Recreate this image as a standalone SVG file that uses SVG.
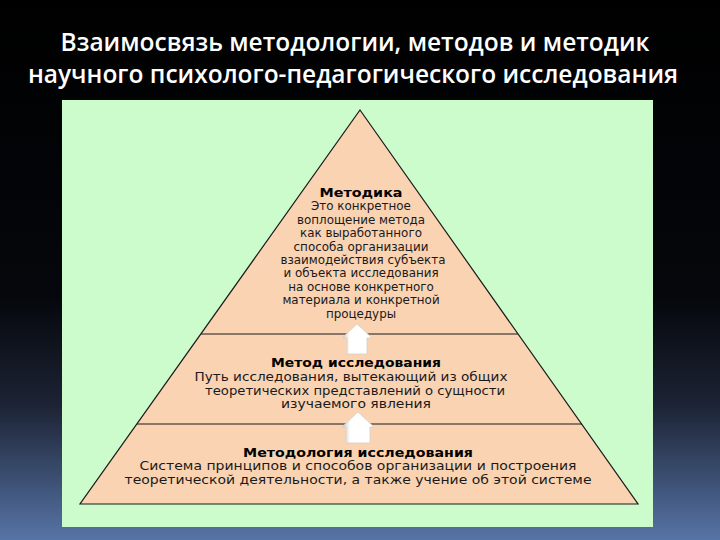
<svg xmlns="http://www.w3.org/2000/svg" width="720" height="540" viewBox="0 0 720 540">
<defs>
<linearGradient id="bg" x1="0" y1="0" x2="0" y2="1">
<stop offset="0" stop-color="#000000"/>
<stop offset="0.55" stop-color="#05070c"/>
<stop offset="0.75" stop-color="#1c2334"/>
<stop offset="1" stop-color="#5774a6"/>
</linearGradient>
<linearGradient id="arr" x1="0" y1="0" x2="1" y2="0">
<stop offset="0" stop-color="#c8c0b8"/>
<stop offset="0.25" stop-color="#ffffff"/>
<stop offset="1" stop-color="#ffffff"/>
</linearGradient>
<style>
.t{font-family:"DejaVu Sans",Verdana,sans-serif;font-size:12px;fill:#1a1a1a;text-anchor:middle}
.s{font-size:11.9px}
.b{font-weight:bold;fill:#000;font-size:12.5px}
.h{font-family:"Open Sans","DejaVu Sans",sans-serif;font-size:24.5px;font-weight:600;fill:#ffffff;text-anchor:middle}
.ln{stroke:#1a1a1a;stroke-width:1.2;fill:none}
.ar{fill:url(#arr);stroke:#d8d0c8;stroke-width:0.8}
</style>
</defs>
<rect x="0" y="0" width="720" height="540" fill="url(#bg)"/>
<g id="title">
<text class="h" x="355" y="51">Взаимосвязь методологии, методов и методик</text>
<text class="h" x="353" y="83">научного психолого-педагогического исследования</text>
</g>
<rect x="62" y="100" width="591" height="427" fill="#ccfccc"/>
<g id="pyramid">
<polygon points="360,110 638,504 80,504" fill="#f9d3b2" stroke="#1a1a1a" stroke-width="1.2"/>
</g>
<g id="connectors">
<line class="ln" x1="201" y1="334" x2="518" y2="334"/>
<line class="ln" x1="137" y1="424" x2="582" y2="424"/>
<polygon class="ar" points="357,324 372,338 367,338 367,354 347,354 347,338 342,338"/>
<polygon class="ar" points="358,412 374,427 370,427 370,443 346,443 346,427 342,427"/>
</g>
<g id="metodika">
<text class="t b" x="361" y="197" textLength="83" lengthAdjust="spacingAndGlyphs">Методика</text>
<text class="t s" x="361" y="210">Это конкретное</text>
<text class="t s" x="361" y="224">воплощение метода</text>
<text class="t s" x="361" y="237">как выработанного</text>
<text class="t s" x="361" y="251">способа организации</text>
<text class="t s" x="363" y="264">взаимодействия субъекта</text>
<text class="t s" x="361" y="277">и объекта исследования</text>
<text class="t s" x="361" y="291">на основе конкретного</text>
<text class="t s" x="361" y="304">материала и конкретной</text>
<text class="t s" x="361" y="318">процедуры</text>
</g>
<g id="metod">
<text class="t b" x="356" y="367" textLength="170" lengthAdjust="spacingAndGlyphs">Метод исследования</text>
<text class="t" x="351" y="381" textLength="313" lengthAdjust="spacingAndGlyphs">Путь исследования, вытекающий из общих</text>
<text class="t" x="355" y="395" textLength="300" lengthAdjust="spacingAndGlyphs">теоретических представлений о сущности</text>
<text class="t" x="356" y="408" textLength="150" lengthAdjust="spacingAndGlyphs">изучаемого явления</text>
</g>
<g id="metodologiya">
<text class="t b" x="358" y="457" textLength="230" lengthAdjust="spacingAndGlyphs">Методология исследования</text>
<text class="t" x="358" y="470" textLength="437" lengthAdjust="spacingAndGlyphs">Система принципов и способов организации и построения</text>
<text class="t" x="358" y="484" textLength="467" lengthAdjust="spacingAndGlyphs">теоретической деятельности, а также учение об этой системе</text>
</g>
</svg>
